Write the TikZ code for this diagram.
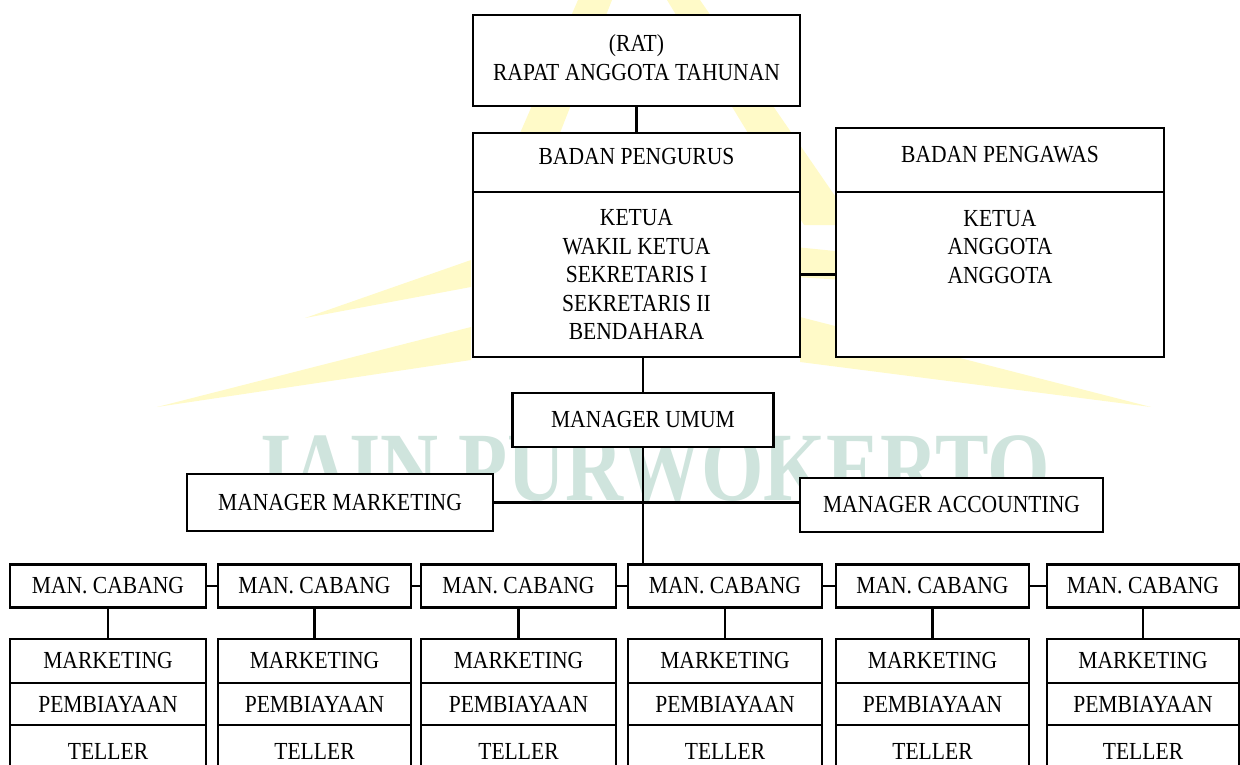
\documentclass[tikz,border=0pt]{standalone}
\usepackage{fontspec}
\setmainfont{Liberation Serif}[FakeStretch=0.88]
\newfontfamily\wmfont{Liberation Serif}[FakeStretch=0.82]
\definecolor{wmteal}{RGB}{207,228,221}
\definecolor{wmyellow}{RGB}{255,250,200}

\begin{document}
\begin{tikzpicture}[
    x=1pt,
    y=-1pt,
    line width=2.8pt,
    every node/.style={font=\fontsize{24.5}{28.5}\selectfont, align=center},
    kotak/.style={draw, fill=white, inner sep=0pt},
    judul/.style={kotak, text depth=12pt}
  ]

  % --- 1. 画像の範囲 ---
  \useasboundingbox (0,0) rectangle (1240,765);

  % --- 2. 背景の透かし（薄い黄色の光線と文字） ---
  \fill[wmyellow] (578,0) -- (612,0) -- (524,225) -- (480,225) -- cycle;
  \fill[wmyellow] (667,0) -- (700,0) -- (855,225) -- (804,225) -- cycle;
  \fill[wmyellow] (471,327) -- (471,360) -- (157,407) -- cycle;
  \fill[wmyellow] (471,260) -- (471,287) -- (305,318) -- cycle;
  \fill[wmyellow] (800,317) -- (800,362) -- (1151,407) -- cycle;
  \fill[wmyellow] (795,247) -- (845,252) -- (845,280) -- (795,277) -- cycle;
  \node[wmteal, font=\wmfont\bfseries\fontsize{98}{100}\selectfont, anchor=base] (wm) at (655,500) {IAIN PURWOKERTO};

  % --- 3. RAT と役員会 ---
  \node[kotak, text depth=6pt, minimum width=327pt, minimum height=91pt] (rat) at (636.5,60.5) {(RAT)\\RAPAT ANGGOTA TAHUNAN};

  % 理事会（見出し + 名簿）
  \node[judul, minimum width=327pt, minimum height=59pt] (bpJudul) at (636.5,162.5) {BADAN PENGURUS};
  \node[kotak, minimum width=327pt, minimum height=165pt] (bpIsi) at (636.5,274.5) {KETUA\\WAKIL KETUA\\SEKRETARIS I\\SEKRETARIS II\\BENDAHARA};

  % 監査会（見出し + 名簿）
  \node[judul, minimum width=328pt, minimum height=64pt] (bpwJudul) at (1000,160) {BADAN PENGAWAS};
  \node[kotak, minimum width=328pt, minimum height=165pt] (bpwIsi) at (1000,274.5) {};
  \node (bpwDaftar) at (1000,247) {KETUA\\ANGGOTA\\ANGGOTA};

  % --- 4. マネージャー ---
  \node[kotak, minimum width=261pt, minimum height=54pt] (mu) at (643,420) {MANAGER UMUM};
  \node[kotak, minimum width=306pt, minimum height=57pt] (mm) at (340,502.5) {MANAGER MARKETING};
  \node[kotak, minimum width=303pt, minimum height=54pt] (ma) at (951.5,505) {MANAGER ACCOUNTING};

  % --- 5. 上部の連結線 ---
  \draw (rat.south) -- (bpJudul.north);
  \draw (bpIsi.east) -- (bpwIsi.west);
  \draw (bpIsi.south -| mu.north) -- (mu.north);
  \draw (mm.east) -- (mm.east -| ma.west);

  % --- 6. 支店（6 列） ---
  \foreach \i/\cx/\w in {1/108/196pt, 2/314.5/193pt, 3/518.5/195pt,
                         4/725/194pt, 5/932.5/193pt, 6/1143/192pt} {
    \node[kotak, minimum width=\w, minimum height=43pt] (cab\i) at (\cx,586) {MAN. CABANG};
    \node[kotak, minimum width=\w, minimum height=44pt] (mkt\i) at (\cx,661) {MARKETING};
    \node[kotak, minimum width=\w, minimum height=42pt] (pby\i) at (\cx,704) {PEMBIAYAAN};
    \node[kotak, minimum width=\w, minimum height=52pt] (tel\i) at (\cx,751) {TELLER};
    \draw (cab\i.south) -- (mkt\i.north);
  }

  % 支店同士の横線と中央の縦線
  \foreach \a/\b in {1/2, 2/3, 3/4, 4/5, 5/6}
    \draw (cab\a.east) -- (cab\b.west);
  \draw (mu.south) -- (mu.south |- cab4.north);

\end{tikzpicture}
\end{document}
